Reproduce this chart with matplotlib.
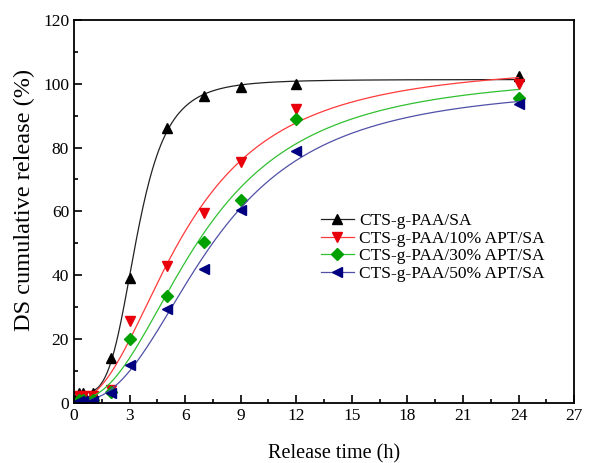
import numpy as np
import matplotlib
matplotlib.use("Agg")
import matplotlib.pyplot as plt
from matplotlib.ticker import MultipleLocator

# release time (h)
time_h = [0.25, 0.5, 1, 2, 3, 5, 7, 9, 12, 24]

# cumulative release (%)
sa = [3, 3, 3, 14, 39, 86, 96, 99, 100, 102.5]
apt10 = [2, 2, 2, 4, 25.5, 43, 59.5, 75.5, 92, 100]
apt30 = [1, 1, 1, 3.5, 20, 33.5, 50.5, 63.5, 89, 95.5]
apt50 = [0.5, 0.5, 0.5, 3, 12, 29.5, 42, 60.5, 79, 93.5]

labels = ["CTS-g-PAA/SA", "CTS-g-PAA/10% APT/SA",
          "CTS-g-PAA/30% APT/SA", "CTS-g-PAA/50% APT/SA"]


def hill_fit(t, y):
    # grid search on k and n, linear solve for amplitude and offset
    t = np.asarray(t, float)
    y = np.asarray(y, float)
    best = None
    for k in np.linspace(1.0, 30.0, 291):
        for n in np.linspace(0.8, 8.0, 145):
            f = t ** n / (k ** n + t ** n)
            A = np.column_stack([f, np.ones_like(f)])
            coef, *_ = np.linalg.lstsq(A, y, rcond=None)
            err = np.sum((A @ coef - y) ** 2)
            if best is None or err < best[0]:
                best = (err, k, n, coef)
    _, k, n, coef = best
    return lambda x: coef[0] * x ** n / (k ** n + x ** n) + coef[1]


plt.rcParams["font.family"] = ["Liberation Serif", "DejaVu Serif"]

fig = plt.figure(figsize=(5.99, 4.63), dpi=100)
ax = fig.add_axes([0.1235, 0.13, 0.835, 0.827])

series = [
    (sa, "^", "black", "#222222"),
    (apt10, "v", "#e8000b", "#ff3a3a"),
    (apt30, "D", "#00a000", "#30c030"),
    (apt50, "<", "#000080", "#5050a8"),
]

xs = np.linspace(0, 24, 400)
handles = []
for (vals, mk, mcol, lcol), lab in zip(series, labels):
    ms = 7 if mk != "D" else 6
    fit = hill_fit(time_h, vals)
    ax.plot(xs, fit(xs), color=lcol, lw=0.9)
    ax.plot(time_h, vals, linestyle="none", marker=mk, color=mcol,
            markersize=ms)
    h, = ax.plot([], [], color=lcol, lw=0.9, marker=mk, markerfacecolor=mcol,
                 markeredgecolor=mcol, markersize=ms)
    handles.append(h)

ax.set_xlim(0, 27)
ax.set_ylim(0, 120)
ax.xaxis.set_major_locator(MultipleLocator(3))
ax.xaxis.set_minor_locator(MultipleLocator(1.5))
ax.yaxis.set_major_locator(MultipleLocator(20))
ax.yaxis.set_minor_locator(MultipleLocator(10))
ax.tick_params(which="both", direction="in", top=False, right=False,
               labelsize=12.5, width=1.2)
ax.tick_params(which="major", length=6)
ax.tick_params(which="minor", length=3)
for s in ax.spines.values():
    s.set_linewidth(1.3)

ax.set_xlabel("Release time (h)", fontsize=14.5)
ax.set_ylabel("DS cumulative release (%)", fontsize=17.5)
ax.xaxis.set_label_coords(0.52, -0.107)
ax.yaxis.set_label_coords(-0.077, 0.53)

ax.legend(handles, labels, loc="upper left", bbox_to_anchor=(0.48, 0.515),
          frameon=False, fontsize=12.5, handlelength=1.9, handletextpad=0.3,
          labelspacing=0.1, borderaxespad=0)

fig.savefig("out.png", dpi=100)
